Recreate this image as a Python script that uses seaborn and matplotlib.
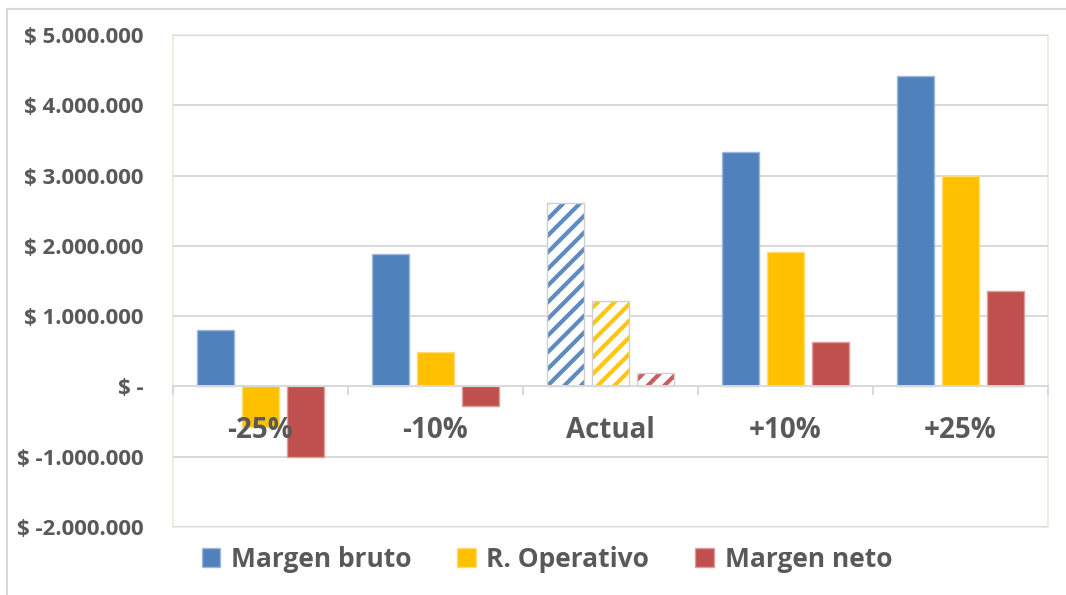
import numpy as np
import pandas as pd
import matplotlib.pyplot as plt
import seaborn as sns
from matplotlib.patches import Rectangle, Patch
from matplotlib.lines import Line2D
from matplotlib.ticker import FixedLocator
from matplotlib.colors import to_rgb

# Datos
escenarios = ["-25%", "-10%", "Actual", "+10%", "+25%"]
margen_bruto = [800000, 1880000, 2610000, 3330000, 4420000]
r_operativo = [-580000, 490000, 1210000, 1910000, 3000000]
margen_neto = [-1000000, -285000, 185000, 635000, 1360000]

series = ["Margen bruto", "R. Operativo", "Margen neto"]
colores = ["#4F81BD", "#FFC000", "#C0504D"]

y_ticks = [-2000000, -1000000, 0, 1000000, 2000000, 3000000, 4000000, 5000000]
y_labels = ["$ -2.000.000", "$ -1.000.000", "$ -", "$ 1.000.000",
            "$ 2.000.000", "$ 3.000.000", "$ 4.000.000", "$ 5.000.000"]

df = pd.DataFrame({
    "Escenario": escenarios * 3,
    "Serie": np.repeat(series, len(escenarios)),
    "Valor": margen_bruto + r_operativo + margen_neto,
})

texto = "#595959"
grid_col = "#D9D9D9"
marco = "#EEECE1"


def aclarar(c, f=0.45):
    r, g, b = to_rgb(c)
    return (r + (1 - r) * f, g + (1 - g) * f, b + (1 - b) * f)


sns.set_theme(style="white")
plt.rcParams["font.family"] = ["Open Sans", "DejaVu Sans"]
plt.rcParams["hatch.linewidth"] = 3.0

fig, ax = plt.subplots(figsize=(10.66, 5.95), dpi=100)
fig.subplots_adjust(left=0.1623, right=0.983, top=0.9412, bottom=0.1143)

sns.barplot(data=df, x="Escenario", y="Valor", hue="Serie", order=escenarios,
            hue_order=series, palette=colores, saturation=1, width=0.77,
            gap=0.17, legend=False, ax=ax)

# barras: borde claro, la columna "Actual" rayada
i_act = escenarios.index("Actual")
for cont, col in zip(ax.containers, colores):
    for j, bar in enumerate(cont):
        if j == i_act:
            bar.set_facecolor("white")
            bar.set_edgecolor(aclarar(col, 0.08))
            bar.set_hatch("//")
            bar.set_linewidth(0)
            ax.add_patch(Rectangle((bar.get_x(), bar.get_y()), bar.get_width(),
                                   bar.get_height(), fill=False, edgecolor="#D0D0D0",
                                   lw=1, zorder=bar.get_zorder() + 0.1))
        else:
            bar.set_edgecolor(aclarar(col))
            bar.set_linewidth(1)

# eje y
ax.set_ylim(-2000000, 5000000)
ax.set_yticks(y_ticks)
ax.set_yticklabels(y_labels, fontsize=16, fontweight="bold", color=texto)
ax.tick_params(axis="y", length=0, pad=21)
ax.yaxis.grid(True, color=grid_col, lw=1.4)
ax.set_axisbelow(True)

# eje x en el cero
ax.set_xlim(-0.5, len(escenarios) - 0.5)
ax.spines["bottom"].set_position(("data", 0))
ax.spines["bottom"].set_color(grid_col)
ax.spines["bottom"].set_linewidth(1.4)
for s in ["top", "left", "right"]:
    ax.spines[s].set_visible(False)
ax.add_patch(Rectangle((0, 0), 1, 1, transform=ax.transAxes, fill=False,
                       edgecolor=marco, lw=1.3, clip_on=False, zorder=0.4))
ax.set_xticks(range(len(escenarios)))
ax.set_xticklabels(escenarios, fontsize=20, fontweight="bold", color=texto)
ax.xaxis.set_minor_locator(FixedLocator(np.arange(len(escenarios) + 1) - 0.5))
ax.tick_params(axis="x", which="major", length=0, pad=21.5)
ax.tick_params(axis="x", which="minor", length=6.5, width=1.4, color=grid_col,
               direction="out", bottom=True)
ax.xaxis.set_zorder(5)
ax.set_xlabel("")
ax.set_ylabel("")

# leyenda
handles = [Patch(facecolor=c, edgecolor=aclarar(c)) for c in colores]
ax.legend(handles, series, loc="center", bbox_to_anchor=(0.513, 0.0605),
          bbox_transform=fig.transFigure, ncol=3, frameon=False,
          prop={"weight": "bold", "size": 19}, labelcolor=texto,
          handlelength=0.7, handleheight=0.7, handletextpad=0.4,
          columnspacing=1.75)

# borde exterior del grafico
fig.add_artist(Line2D([7 / 1066, 1], [1 - 9 / 595] * 2, transform=fig.transFigure,
                      color=grid_col, lw=1.5))
fig.add_artist(Line2D([7 / 1066] * 2, [0, 1 - 9 / 595], transform=fig.transFigure,
                      color=grid_col, lw=1.5))

fig.savefig("out.png", dpi=100)
